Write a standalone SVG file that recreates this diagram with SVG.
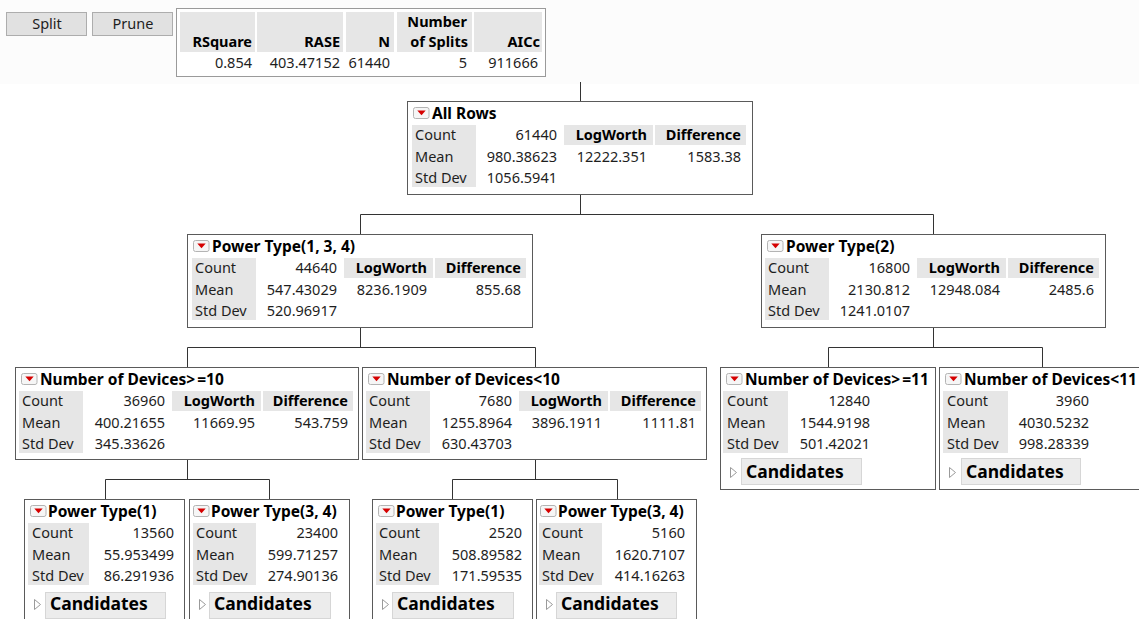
<svg xmlns="http://www.w3.org/2000/svg" xmlns:xlink="http://www.w3.org/1999/xlink" width="1139" height="619" viewBox="0 0 1139 619">
<style>
.t{font-family:"Noto Sans","Open Sans","DejaVu Sans",sans-serif;font-size:14.5px;fill:#1e1e1e}
.b{font-weight:bold;fill:#000}
.h{font-size:15.5px}
.r{text-anchor:end}
.c{text-anchor:middle}
.cand{font-size:17.5px}
.box{fill:#fff;stroke:#5a5a5a;stroke-width:1}
.bg{fill:#e6e6e6}
.btn{fill:#e1e1e1;stroke:#adadad;stroke-width:1}
.cbtn{fill:#ececec;stroke:#d6d6d6;stroke-width:1}
.conn{stroke:#333;stroke-width:1;fill:none}
</style>
<defs>
<g id="menu">
<rect x="0.5" y="0.5" width="15.5" height="11" rx="2" fill="#f6f6f6" stroke="#b4b4b4"/>
<polygon points="4.3,3.6 12.7,3.6 8.5,8.2" fill="#d50000"/>
</g>
<g id="disc">
<polygon points="0.5,0.5 6.5,5.5 0.5,10.5" fill="#fff" stroke="#9a9a9a"/>
</g>
</defs>
<rect x="0" y="0" width="1139" height="619" fill="#fff"/>
<rect x="0" y="0" width="1139" height="84" fill="#fcfcfc"/>

<g id="buttons">
<rect class="btn" x="6.5" y="12.5" width="80" height="23"/>
<text class="t c" x="47" y="29">Split</text>
<rect class="btn" x="92.5" y="12.5" width="80" height="23"/>
<text class="t c" x="133" y="29">Prune</text>
</g>

<g id="summary">
<rect x="176.5" y="8.5" width="369" height="68" fill="#fff" stroke="#9a9a9a"/>
<rect class="bg" x="180" y="12" width="75" height="40"/>
<rect class="bg" x="257" y="12" width="86" height="40"/>
<rect class="bg" x="346" y="12" width="48" height="40"/>
<rect class="bg" x="397" y="12" width="75" height="40"/>
<rect class="bg" x="474" y="12" width="68" height="40"/>
<text class="t b r" x="252" y="47">RSquare</text>
<text class="t b r" x="340" y="47">RASE</text>
<text class="t b r" x="390" y="47">N</text>
<text class="t b r" x="467" y="27">Number</text>
<text class="t b r" x="468" y="47">of Splits</text>
<text class="t b r" x="540" y="47">AICc</text>
<text class="t r" x="252" y="68">0.854</text>
<text class="t r" x="340" y="68">403.47152</text>
<text class="t r" x="390" y="68">61440</text>
<text class="t r" x="467" y="68">5</text>
<text class="t r" x="538" y="68">911666</text>
</g>

<g id="connectors" class="conn">
<path d="M580.5 82V101"/>
<path d="M580.5 195V214.5M360.5 214.5H933.5M360.5 214.5V234M933.5 214.5V234"/>
<path d="M360.5 328V347.5M187.5 347.5H535.5M187.5 347.5V367M535.5 347.5V367"/>
<path d="M933.5 328V347.5M828.5 347.5H1042.5M828.5 347.5V367M1042.5 347.5V367"/>
<path d="M187.5 460V479.5M105.5 479.5H269.5M105.5 479.5V499M269.5 479.5V499"/>
<path d="M535.5 460V479.5M452.5 479.5H617.5M452.5 479.5V499M617.5 479.5V499"/>
</g>

<g id="all-rows" transform="translate(407,101)">
<rect class="box" x="0.5" y="0.5" width="345" height="93"/>
<use xlink:href="#menu" x="6" y="6"/>
<text class="t b h" x="25" y="18">All Rows</text>
<rect class="bg" x="5" y="24" width="64" height="62"/>
<rect class="bg" x="157" y="24" width="89" height="20"/>
<rect class="bg" x="248" y="24" width="91" height="20"/>
<text class="t" x="8" y="39">Count</text>
<text class="t" x="8" y="60.5">Mean</text>
<text class="t" x="8" y="82">Std Dev</text>
<text class="t r" x="150" y="39">61440</text>
<text class="t r" x="150" y="60.5">980.38623</text>
<text class="t r" x="150" y="82">1056.5941</text>
<text class="t b r" x="240" y="39">LogWorth</text>
<text class="t b r" x="334" y="39">Difference</text>
<text class="t r" x="240" y="60.5">12222.351</text>
<text class="t r" x="334" y="60.5">1583.38</text>
</g>

<g id="power-type-134" transform="translate(187,234)">
<rect class="box" x="0.5" y="0.5" width="345" height="93"/>
<use xlink:href="#menu" x="6" y="6"/>
<text class="t b h" x="25" y="18">Power Type(1, 3, 4)</text>
<rect class="bg" x="5" y="24" width="64" height="62"/>
<rect class="bg" x="157" y="24" width="89" height="20"/>
<rect class="bg" x="248" y="24" width="91" height="20"/>
<text class="t" x="8" y="39">Count</text>
<text class="t" x="8" y="60.5">Mean</text>
<text class="t" x="8" y="82">Std Dev</text>
<text class="t r" x="150" y="39">44640</text>
<text class="t r" x="150" y="60.5">547.43029</text>
<text class="t r" x="150" y="82">520.96917</text>
<text class="t b r" x="240" y="39">LogWorth</text>
<text class="t b r" x="334" y="39">Difference</text>
<text class="t r" x="240" y="60.5">8236.1909</text>
<text class="t r" x="334" y="60.5">855.68</text>
</g>

<g id="power-type-2" transform="translate(761,234)">
<rect class="box" x="0.5" y="0.5" width="344" height="93"/>
<use xlink:href="#menu" x="6" y="6"/>
<text class="t b h" x="25" y="18">Power Type(2)</text>
<rect class="bg" x="4" y="24" width="64" height="62"/>
<rect class="bg" x="156" y="24" width="89" height="20"/>
<rect class="bg" x="247" y="24" width="91" height="20"/>
<text class="t" x="7" y="39">Count</text>
<text class="t" x="7" y="60.5">Mean</text>
<text class="t" x="7" y="82">Std Dev</text>
<text class="t r" x="149" y="39">16800</text>
<text class="t r" x="149" y="60.5">2130.812</text>
<text class="t r" x="149" y="82">1241.0107</text>
<text class="t b r" x="239" y="39">LogWorth</text>
<text class="t b r" x="333" y="39">Difference</text>
<text class="t r" x="239" y="60.5">12948.084</text>
<text class="t r" x="333" y="60.5">2485.6</text>
</g>

<g id="devices-ge-10" transform="translate(15,367)">
<rect class="box" x="0.5" y="0.5" width="343" height="92"/>
<use xlink:href="#menu" x="6" y="6"/>
<text class="t b h" x="25" y="18">Number of Devices&gt;<tspan dx="2">=10</tspan></text>
<rect class="bg" x="4" y="24" width="64" height="62"/>
<rect class="bg" x="157" y="24" width="89" height="20"/>
<rect class="bg" x="248" y="24" width="90" height="20"/>
<text class="t" x="7" y="39">Count</text>
<text class="t" x="7" y="60.5">Mean</text>
<text class="t" x="7" y="82">Std Dev</text>
<text class="t r" x="150" y="39">36960</text>
<text class="t r" x="150" y="60.5">400.21655</text>
<text class="t r" x="150" y="82">345.33626</text>
<text class="t b r" x="240" y="39">LogWorth</text>
<text class="t b r" x="333" y="39">Difference</text>
<text class="t r" x="240" y="60.5">11669.95</text>
<text class="t r" x="333" y="60.5">543.759</text>
</g>

<g id="devices-lt-10" transform="translate(362,367)">
<rect class="box" x="0.5" y="0.5" width="344" height="92"/>
<use xlink:href="#menu" x="6" y="6"/>
<text class="t b h" x="25" y="18">Number of Devices&lt;10</text>
<rect class="bg" x="4" y="24" width="64" height="62"/>
<rect class="bg" x="157" y="24" width="89" height="20"/>
<rect class="bg" x="248" y="24" width="91" height="20"/>
<text class="t" x="7" y="39">Count</text>
<text class="t" x="7" y="60.5">Mean</text>
<text class="t" x="7" y="82">Std Dev</text>
<text class="t r" x="150" y="39">7680</text>
<text class="t r" x="150" y="60.5">1255.8964</text>
<text class="t r" x="150" y="82">630.43703</text>
<text class="t b r" x="240" y="39">LogWorth</text>
<text class="t b r" x="334" y="39">Difference</text>
<text class="t r" x="240" y="60.5">3896.1911</text>
<text class="t r" x="334" y="60.5">1111.81</text>
</g>

<g id="devices-ge-11" transform="translate(720,367)">
<rect class="box" x="0.5" y="0.5" width="215" height="122"/>
<use xlink:href="#menu" x="6" y="6"/>
<text class="t b h" x="25" y="18">Number of Devices&gt;<tspan dx="2">=11</tspan></text>
<rect class="bg" x="3" y="24" width="65" height="62"/>
<text class="t" x="7" y="39">Count</text>
<text class="t" x="7" y="60.5">Mean</text>
<text class="t" x="7" y="82">Std Dev</text>
<text class="t r" x="150" y="39">12840</text>
<text class="t r" x="150" y="60.5">1544.9198</text>
<text class="t r" x="150" y="82">501.42021</text>
<use xlink:href="#disc" x="10" y="100"/>
<rect class="cbtn" x="21.5" y="91.5" width="120" height="26"/>
<text class="t b cand" x="26" y="111">Candidates</text>
</g>

<g id="devices-lt-11" transform="translate(939,367)">
<rect class="box" x="0.5" y="0.5" width="230" height="122"/>
<use xlink:href="#menu" x="6" y="6"/>
<text class="t b h" x="25" y="18">Number of Devices&lt;11</text>
<rect class="bg" x="4" y="24" width="65" height="62"/>
<text class="t" x="8" y="39">Count</text>
<text class="t" x="8" y="60.5">Mean</text>
<text class="t" x="8" y="82">Std Dev</text>
<text class="t r" x="150" y="39">3960</text>
<text class="t r" x="150" y="60.5">4030.5232</text>
<text class="t r" x="150" y="82">998.28339</text>
<use xlink:href="#disc" x="10" y="100"/>
<rect class="cbtn" x="22.5" y="91.5" width="119" height="26"/>
<text class="t b cand" x="27" y="111">Candidates</text>
</g>

<g id="power-type-1-a" transform="translate(24,499)">
<rect class="box" x="0.5" y="0.5" width="160" height="140"/>
<use xlink:href="#menu" x="6" y="6"/>
<text class="t b h" x="24" y="18">Power Type(1)</text>
<rect class="bg" x="4" y="24" width="61" height="62"/>
<text class="t" x="8" y="39">Count</text>
<text class="t" x="8" y="60.5">Mean</text>
<text class="t" x="8" y="82">Std Dev</text>
<text class="t r" x="150" y="39">13560</text>
<text class="t r" x="150" y="60.5">55.953499</text>
<text class="t r" x="150" y="82">86.291936</text>
<use xlink:href="#disc" x="10" y="100"/>
<rect class="cbtn" x="21.5" y="93.5" width="120" height="26"/>
<text class="t b cand" x="26" y="111">Candidates</text>
</g>

<g id="power-type-34-a" transform="translate(189,499)">
<rect class="box" x="0.5" y="0.5" width="160" height="140"/>
<use xlink:href="#menu" x="4" y="6"/>
<text class="t b h" x="22" y="18">Power Type(3, 4)</text>
<rect class="bg" x="4" y="24" width="63" height="62"/>
<text class="t" x="7" y="39">Count</text>
<text class="t" x="7" y="60.5">Mean</text>
<text class="t" x="7" y="82">Std Dev</text>
<text class="t r" x="149" y="39">23400</text>
<text class="t r" x="149" y="60.5">599.71257</text>
<text class="t r" x="149" y="82">274.90136</text>
<use xlink:href="#disc" x="10" y="100"/>
<rect class="cbtn" x="20.5" y="93.5" width="121" height="26"/>
<text class="t b cand" x="25" y="111">Candidates</text>
</g>

<g id="power-type-1-b" transform="translate(372,499)">
<rect class="box" x="0.5" y="0.5" width="160" height="140"/>
<use xlink:href="#menu" x="6" y="6"/>
<text class="t b h" x="24" y="18">Power Type(1)</text>
<rect class="bg" x="4" y="24" width="63" height="62"/>
<text class="t" x="7" y="39">Count</text>
<text class="t" x="7" y="60.5">Mean</text>
<text class="t" x="7" y="82">Std Dev</text>
<text class="t r" x="150" y="39">2520</text>
<text class="t r" x="150" y="60.5">508.89582</text>
<text class="t r" x="150" y="82">171.59535</text>
<use xlink:href="#disc" x="10" y="100"/>
<rect class="cbtn" x="20.5" y="93.5" width="121" height="26"/>
<text class="t b cand" x="25" y="111">Candidates</text>
</g>

<g id="power-type-34-b" transform="translate(536,499)">
<rect class="box" x="0.5" y="0.5" width="160" height="140"/>
<use xlink:href="#menu" x="4" y="6"/>
<text class="t b h" x="22" y="18">Power Type(3, 4)</text>
<rect class="bg" x="3" y="24" width="63" height="62"/>
<text class="t" x="6" y="39">Count</text>
<text class="t" x="6" y="60.5">Mean</text>
<text class="t" x="6" y="82">Std Dev</text>
<text class="t r" x="149" y="39">5160</text>
<text class="t r" x="149" y="60.5">1620.7107</text>
<text class="t r" x="149" y="82">414.16263</text>
<use xlink:href="#disc" x="10" y="100"/>
<rect class="cbtn" x="20.5" y="93.5" width="120" height="26"/>
<text class="t b cand" x="25" y="111">Candidates</text>
</g>
</svg>
